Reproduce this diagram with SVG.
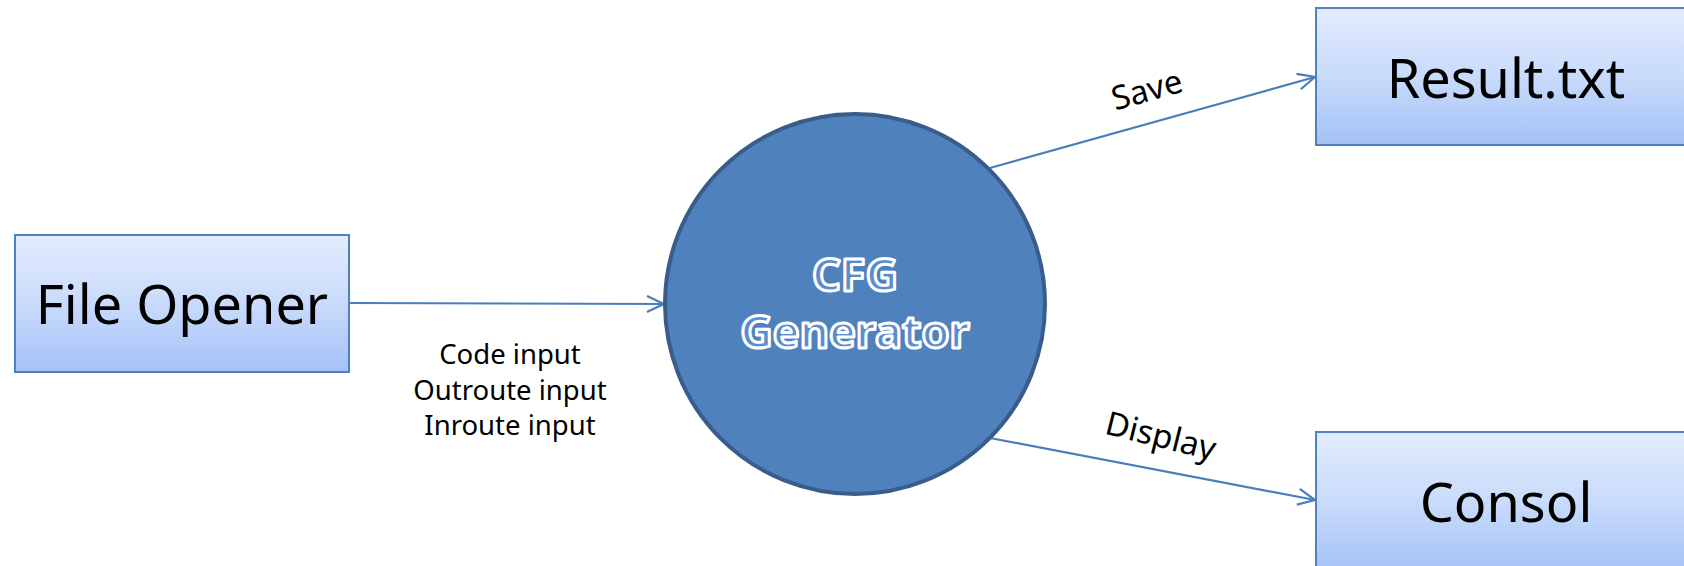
<svg xmlns="http://www.w3.org/2000/svg" width="1684" height="566" viewBox="0 0 1684 566">
<defs>
<linearGradient id="boxg" x1="0" y1="0" x2="0" y2="1">
<stop offset="0" stop-color="#e2ecfd"/>
<stop offset="0.5" stop-color="#c9dbfb"/>
<stop offset="1" stop-color="#a3c1f7"/>
</linearGradient>
<marker id="arr" markerWidth="20" markerHeight="20" refX="18" refY="9" orient="auto" markerUnits="userSpaceOnUse">
<path d="M1,1 L18,9 L1,17" fill="none" stroke="#4a7ebb" stroke-width="2.2"/>
</marker>
<style>
.box{fill:url(#boxg);stroke:#4f81bd;stroke-width:2}
.lbl{font-family:"Noto Sans","Open Sans",sans-serif;fill:#000;text-anchor:middle}
.big{font-size:54px}
.edge{stroke:#4a7ebb;stroke-width:2.2;fill:none;marker-end:url(#arr)}
.el{font-family:"Noto Sans","Open Sans",sans-serif;font-size:27.5px;fill:#000;text-anchor:middle}
.cfg{font-family:"Noto Sans","Open Sans",sans-serif;font-size:45px;font-weight:bold;text-anchor:middle;fill:#5a8cd0;stroke:#ffffff;stroke-width:3;stroke-linejoin:round}
</style>
</defs>
<g id="connectors">
<line class="edge" x1="349" y1="303" x2="664" y2="304"/>
<line class="edge" x1="990" y1="168" x2="1315" y2="77"/>
<line class="edge" x1="990" y1="438" x2="1315" y2="500"/>
<text class="el" x="510" y="364">Code input</text>
<text class="el" x="510" y="400">Outroute input</text>
<text class="el" x="510" y="435">Inroute input</text>
<text class="el" style="font-size:33px" transform="translate(1150,101) rotate(-15.5)">Save</text>
<text class="el" style="font-size:33px" transform="translate(1158,447) rotate(14)">Display</text>
</g>
<g id="file-opener">
<rect class="box" x="15" y="235" width="334" height="137"/>
<text class="lbl big" x="182" y="324">File Opener</text>
</g>
<g id="cfg-generator">
<circle cx="855" cy="304" r="190" fill="#4f81bd" stroke="#385d8a" stroke-width="4"/>
<text class="cfg" x="855" y="291">CFG</text>
<text class="cfg" x="855" y="348">Generator</text>
</g>
<g id="result-txt">
<rect class="box" x="1316" y="8" width="380" height="137"/>
<text class="lbl big" x="1506" y="98">Result.txt</text>
</g>
<g id="consol">
<rect class="box" x="1316" y="432" width="380" height="140"/>
<text class="lbl big" x="1506" y="522">Consol</text>
</g>
</svg>
